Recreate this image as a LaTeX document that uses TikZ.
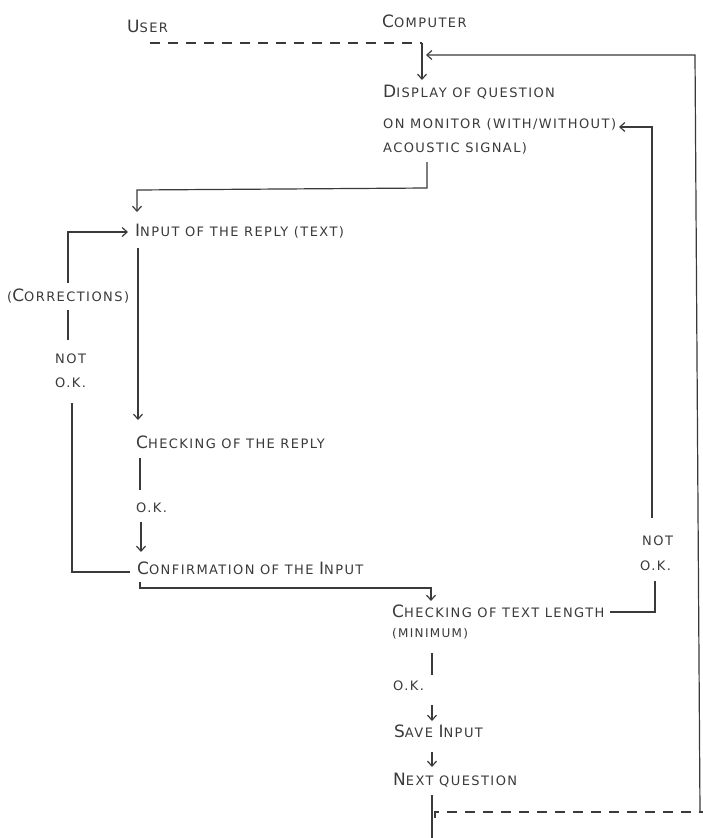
\documentclass[tikz,border=0pt]{standalone}
\usepackage{fontspec}
\newfontfamily\hand[LetterSpace=11]{DejaVu Sans}
\usetikzlibrary{arrows.meta}
\definecolor{ink}{HTML}{3A3A3A}
\newcommand\C[1]{{\fontsize{17}{17}\selectfont #1}}
\begin{document}
\begin{tikzpicture}[x=1pt,y=-1pt,
 txt/.style={anchor=base west, inner sep=0pt, text=ink, font=\hand\fontsize{13}{15}\selectfont},
 smalltxt/.style={txt, font=\hand\fontsize{12}{14}\selectfont},
 ln/.style={draw=ink, line width=1.2pt},
 arr/.style={ln, -{Straight Barb[length=5pt,width=9pt]}},
 dsh/.style={ln, dash pattern=on 10pt off 8pt}]
\useasboundingbox[fill=white] (0,0) rectangle (703,838);
% texts
\node[txt] (user) at (127,32) {\C{U}SER};
\node[txt] (comp) at (382,27) {\C{C}OMPUTER};
\node[txt] (disp1) at (383,97) {\C{D}ISPLAY OF QUESTION};
\node[txt] (disp2) at (383,128) {ON MONITOR (WITH/WITHOUT)};
\node[txt] (disp3) at (383,152) {ACOUSTIC SIGNAL)};
\node[txt] (input) at (135,236) {\C{I}NPUT OF THE REPLY (TEXT)};
\node[txt] (corr) at (7,301) {(\C{C}ORRECTIONS)};
\node[txt] (nok1) at (55,363) {NOT};
\node[txt] (nok2) at (55,387) {O.K.};
\node[txt] (chkr) at (136,448) {\C{C}HECKING OF THE REPLY};
\node[txt] (ok1) at (136,512) {O.K.};
\node[txt] (conf) at (137,574) {\C{C}ONFIRMATION OF THE \C{I}NPUT};
\node[txt] (nok3) at (642,545) {NOT};
\node[txt] (nok4) at (640,570) {O.K.};
\node[txt] (len1) at (392,617) {\C{C}HECKING OF TEXT LENGTH};
\node[smalltxt] (len2) at (392,637) {(MINIMUM)};
\node[txt] (ok2) at (393,690) {O.K.};
\node[txt] (save) at (394,737) {\C{S}AVE \C{I}NPUT};
\node[txt] (next) at (393,785) {\C{N}EXT QUESTION};
% coordinates
\coordinate (ul) at (150,43);
\coordinate (uc) at (422,43);
\coordinate (dtop) at (422,80);
\coordinate (rb) at (700,812);
\coordinate (rt) at (695,55);
\coordinate (rin) at (426,55);
\coordinate (d3a) at (427,162);
\coordinate (d3b) at (427,188);
\coordinate (inA) at (137,190);
\coordinate (inB) at (137,212);
\coordinate (inC) at (138,248);
\coordinate (crA) at (138,420);
\coordinate (crB) at (140,458);
\coordinate (okA) at (140,490);
\coordinate (okB) at (141,522);
\coordinate (cfA) at (141,552);
\coordinate (cfW) at (130,572);
\coordinate (lc1) at (72,572);
\coordinate (lc2) at (72,403);
\coordinate (lc3) at (68,340);
\coordinate (lc4) at (68,310);
\coordinate (lc5) at (68,283);
\coordinate (lc6) at (68,232);
\coordinate (inW) at (128,232);
\coordinate (cfS) at (140,582);
\coordinate (cfS2) at (140,588);
\coordinate (lnA) at (431,588);
\coordinate (lnB) at (431,601);
\coordinate (lnE) at (610,612);
\coordinate (rn1) at (655,612);
\coordinate (rn2) at (655,581);
\coordinate (rn3) at (652,518);
\coordinate (rn4) at (652,127);
\coordinate (d2E) at (619,127);
\coordinate (l2a) at (432,653);
\coordinate (l2b) at (432,675);
\coordinate (o2a) at (432,705);
\coordinate (o2b) at (432,721);
\coordinate (svA) at (432,752);
\coordinate (svB) at (432,767);
\coordinate (nxA) at (432,795);
\coordinate (nxB) at (432,838);
\coordinate (bd0) at (435,818);
\coordinate (bd1) at (435,812);
\coordinate (bd2) at (703,812);
% connectors
\draw[dsh] (ul) -- (uc);
\draw[arr] (uc) -- (dtop);
\draw[arr] (rb) -- (rt) -- (rin);
\draw[arr] (d3a) -- (d3b) -- (inA) -- (inB);
\draw[arr] (inC) -- (crA);
\draw[ln] (crB) -- (okA);
\draw[arr] (okB) -- (cfA);
\draw[ln] (cfW) -- (lc1) -- (lc2);
\draw[ln] (lc3) -- (lc4);
\draw[arr] (lc5) -- (lc6) -- (inW);
\draw[arr] (cfS) -- (cfS2) -- (lnA) -- (lnB);
\draw[ln] (lnE) -- (rn1) -- (rn2);
\draw[arr] (rn3) -- (rn4) -- (d2E);
\draw[ln] (l2a) -- (l2b);
\draw[arr] (o2a) -- (o2b);
\draw[arr] (svA) -- (svB);
\draw[ln] (nxA) -- (nxB);
\draw[dsh] (bd0) -- (bd1) -- (bd2);
\end{tikzpicture}
\end{document}
